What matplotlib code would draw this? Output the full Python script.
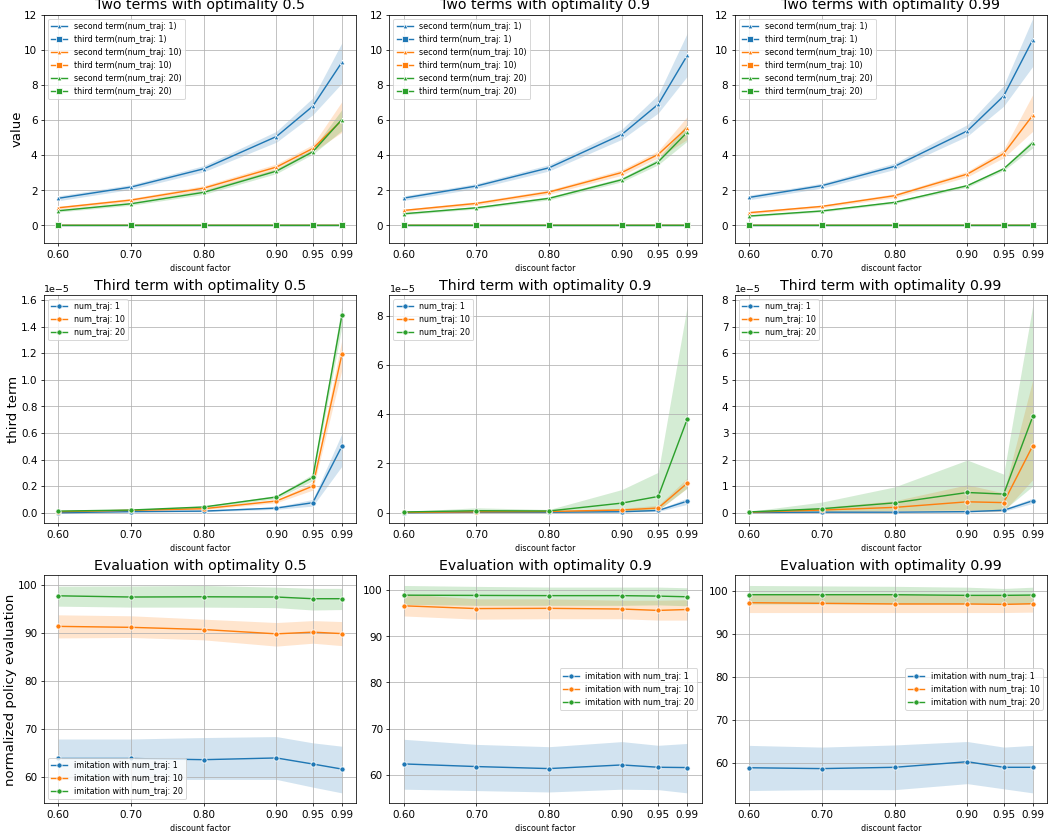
import numpy as np
import matplotlib.pyplot as plt

# discount factors and settings
x = [0.6, 0.7, 0.8, 0.9, 0.95, 0.99]
x_labels = ["0.60", "0.70", "0.80", "0.90", "0.95", "0.99"]
num_traj = [1, 10, 20]
optimality = ["0.5", "0.9", "0.99"]

# second term (rows: num_traj 1, 10, 20)
second_05_mean = [[1.54, 2.18, 3.22, 5.06, 6.79, 9.29],
                  [1.00, 1.44, 2.12, 3.32, 4.38, 5.99],
                  [0.83, 1.23, 1.88, 3.09, 4.19, 6.03]]
second_05_lo = [[1.40, 2.05, 3.05, 4.74, 6.30, 8.10],
                [0.92, 1.34, 1.98, 3.12, 4.18, 5.30],
                [0.76, 1.14, 1.76, 2.95, 4.05, 5.40]]
second_05_hi = [[1.68, 2.32, 3.40, 5.36, 7.26, 10.40],
                [1.08, 1.54, 2.26, 3.50, 4.60, 7.05],
                [0.90, 1.32, 2.00, 3.22, 4.35, 6.60]]

second_09_mean = [[1.55, 2.24, 3.28, 5.18, 6.90, 9.69],
                  [0.85, 1.25, 1.90, 3.01, 4.04, 5.57],
                  [0.66, 1.00, 1.54, 2.60, 3.62, 5.31]]
second_09_lo = [[1.42, 2.10, 3.10, 4.90, 6.40, 8.50],
                [0.78, 1.15, 1.78, 2.85, 3.85, 4.90],
                [0.60, 0.93, 1.45, 2.48, 3.45, 4.80]]
second_09_hi = [[1.68, 2.38, 3.46, 5.48, 7.45, 10.96],
                [0.92, 1.35, 2.02, 3.18, 4.25, 6.20],
                [0.72, 1.07, 1.63, 2.72, 3.80, 5.80]]

second_099_mean = [[1.59, 2.26, 3.36, 5.38, 7.37, 10.58],
                   [0.72, 1.08, 1.69, 2.92, 4.09, 6.27],
                   [0.53, 0.82, 1.31, 2.26, 3.22, 4.70]]
second_099_lo = [[1.46, 2.12, 3.18, 5.08, 6.79, 9.06],
                 [0.65, 1.00, 1.58, 2.76, 3.85, 5.36],
                 [0.48, 0.76, 1.24, 2.17, 3.12, 4.42]]
second_099_hi = [[1.72, 2.40, 3.54, 5.74, 7.96, 11.80],
                 [0.79, 1.16, 1.80, 3.08, 4.33, 7.45],
                 [0.58, 0.88, 1.38, 2.35, 3.32, 4.89]]

# third term, in units of 1e-5
third_05_mean = [[0.000, 0.008, 0.012, 0.035, 0.075, 0.500],
                 [0.008, 0.018, 0.030, 0.088, 0.200, 1.190],
                 [0.012, 0.020, 0.043, 0.118, 0.265, 1.485]]
third_05_lo = [[0.000, 0.004, 0.007, 0.025, 0.050, 0.350],
               [0.005, 0.013, 0.022, 0.075, 0.170, 1.075],
               [0.009, 0.016, 0.036, 0.105, 0.240, 1.400]]
third_05_hi = [[0.002, 0.012, 0.018, 0.045, 0.100, 0.595],
               [0.011, 0.023, 0.038, 0.100, 0.230, 1.300],
               [0.015, 0.025, 0.050, 0.130, 0.290, 1.560]]

third_09_mean = [[0.00, 0.02, 0.02, 0.04, 0.09, 0.47],
                 [0.01, 0.04, 0.05, 0.11, 0.19, 1.20],
                 [0.03, 0.08, 0.07, 0.39, 0.66, 3.81]]
third_09_lo = [[0.00, 0.01, 0.01, 0.02, 0.05, 0.34],
               [0.00, 0.02, 0.03, 0.05, 0.10, 1.01],
               [0.01, 0.03, 0.03, 0.05, 0.10, 1.00]]
third_09_hi = [[0.01, 0.03, 0.03, 0.06, 0.13, 0.60],
               [0.02, 0.07, 0.07, 0.18, 0.30, 1.41],
               [0.05, 0.20, 0.13, 0.94, 1.64, 8.42]]

third_099_mean = [[0.01, 0.02, 0.02, 0.04, 0.09, 0.45],
                  [0.02, 0.10, 0.20, 0.41, 0.38, 2.52],
                  [0.03, 0.15, 0.37, 0.76, 0.70, 3.62]]
third_099_lo = [[0.00, 0.01, 0.01, 0.02, 0.05, 0.35],
                [0.01, 0.03, 0.05, 0.05, 0.05, 1.24],
                [0.01, 0.04, 0.08, 0.10, 0.10, 1.00]]
third_099_hi = [[0.02, 0.03, 0.03, 0.06, 0.15, 0.55],
                [0.03, 0.20, 0.45, 1.05, 0.74, 5.00],
                [0.05, 0.40, 0.97, 1.98, 1.45, 7.80]]

# normalized policy evaluation
eval_05_mean = [[63.85, 63.85, 63.6, 63.96, 62.7, 61.65],
                [91.3, 91.1, 90.65, 89.75, 90.1, 89.8],
                [97.65, 97.4, 97.45, 97.4, 97.05, 97.05]]
eval_05_lo = [[59.5, 59.5, 59.5, 59.5, 57.9, 56.7],
              [88.9, 89.0, 88.5, 87.2, 87.8, 87.3],
              [95.5, 95.3, 95.3, 95.2, 94.7, 94.8]]
eval_05_hi = [[67.9, 67.9, 68.2, 68.4, 67.1, 66.4],
              [93.7, 93.5, 92.8, 92.1, 92.5, 92.3],
              [99.65, 99.7, 99.8, 99.45, 99.2, 99.2]]

eval_09_mean = [[62.37, 61.8, 61.36, 62.15, 61.65, 61.58],
                [96.6, 96.0, 96.05, 95.9, 95.6, 95.8],
                [98.9, 98.85, 98.8, 98.8, 98.7, 98.55]]
eval_09_lo = [[56.9, 56.6, 56.3, 56.9, 56.8, 56.1],
              [94.4, 93.7, 93.8, 93.8, 93.5, 93.5],
              [96.9, 96.7, 96.7, 96.7, 96.8, 96.6]]
eval_09_hi = [[67.7, 66.6, 66.1, 67.2, 66.4, 66.8],
              [99.2, 98.1, 98.1, 97.8, 97.8, 97.9],
              [101.0, 100.8, 100.65, 100.65, 100.65, 100.5]]

eval_099_mean = [[58.9, 58.7, 59.0, 60.3, 59.0, 59.0],
                 [97.3, 97.15, 97.0, 97.0, 96.9, 97.05],
                 [99.15, 99.15, 99.15, 99.0, 99.0, 99.07]]
eval_099_lo = [[53.6, 53.8, 53.8, 55.2, 54.0, 53.05],
               [95.0, 95.0, 95.0, 95.0, 95.0, 95.1],
               [97.0, 97.0, 97.0, 97.0, 97.0, 97.0]]
eval_099_hi = [[64.1, 63.7, 64.2, 65.0, 63.7, 64.1],
               [99.4, 99.2, 99.2, 99.1, 99.0, 99.1],
               [101.3, 101.2, 101.1, 100.9, 100.6, 100.9]]

second_mean = [second_05_mean, second_09_mean, second_099_mean]
second_lo = [second_05_lo, second_09_lo, second_099_lo]
second_hi = [second_05_hi, second_09_hi, second_099_hi]
third_mean = [third_05_mean, third_09_mean, third_099_mean]
third_lo = [third_05_lo, third_09_lo, third_099_lo]
third_hi = [third_05_hi, third_09_hi, third_099_hi]
eval_mean = [eval_05_mean, eval_09_mean, eval_099_mean]
eval_lo = [eval_05_lo, eval_09_lo, eval_099_lo]
eval_hi = [eval_05_hi, eval_09_hi, eval_099_hi]

colors = ["C0", "C1", "C2"]
scale = 1e-5

plt.rcParams['xtick.labelsize'] = 11
plt.rcParams['ytick.labelsize'] = 11


def line_band(ax, y, lo, hi, color, marker, label, ms=5.5):
    ax.fill_between(x, lo, hi, color=color, alpha=0.2, linewidth=0)
    ax.plot(x, y, color=color, marker=marker, markersize=ms,
            markeredgecolor="white", markeredgewidth=0.8,
            linewidth=1.5, label=label)


def style_axis(ax):
    ax.set_xticks(x)
    ax.set_xticklabels(x_labels)
    ax.grid(True)
    ax.set_xlabel("discount factor", fontsize=8.5)
    ax.yaxis.get_offset_text().set_fontsize(10)


fig, axes = plt.subplots(3, 3, figsize=(1048 / 68, 835.3 / 68), dpi=68)
fig.subplots_adjust(left=0.042, right=0.999, top=0.982, bottom=0.038,
                    wspace=0.107, hspace=0.228)

for j, opt in enumerate(optimality):
    # Two terms
    ax = axes[0, j]
    for i, n in enumerate(num_traj):
        line_band(ax, second_mean[j][i], second_lo[j][i], second_hi[j][i],
                  colors[i], "^", "second term(num_traj: %d)" % n, ms=5)
        t = np.array(third_mean[j][i]) * scale
        tl = np.array(third_lo[j][i]) * scale
        th = np.array(third_hi[j][i]) * scale
        line_band(ax, t, tl, th, colors[i], "s", "third term(num_traj: %d)" % n, ms=6)
    ax.set_ylim(-1, 12)
    ax.set_title("Two terms with optimality " + opt, fontsize=15)
    ax.legend(loc="upper left", fontsize=8.5)
    style_axis(ax)

    # Third term
    ax = axes[1, j]
    for i, n in enumerate(num_traj):
        t = np.array(third_mean[j][i]) * scale
        tl = np.array(third_lo[j][i]) * scale
        th = np.array(third_hi[j][i]) * scale
        line_band(ax, t, tl, th, colors[i], "o", "num_traj: %d" % n)
    ax.set_title("Third term with optimality " + opt, fontsize=15)
    ax.legend(loc="upper left", fontsize=8.5)
    style_axis(ax)

    # Evaluation
    ax = axes[2, j]
    for i, n in enumerate(num_traj):
        line_band(ax, eval_mean[j][i], eval_lo[j][i], eval_hi[j][i],
                  colors[i], "o", "imitation with num_traj: %d" % n)
    ax.set_title("Evaluation with optimality " + opt, fontsize=15)
    if j == 0:
        ax.legend(loc="lower left", fontsize=8.5)
    else:
        ax.legend(loc="center right", fontsize=8.5)
    style_axis(ax)

axes[0, 0].set_ylabel("value", fontsize=14, labelpad=1)
axes[1, 0].set_ylabel("third term", fontsize=14, labelpad=1)
axes[2, 0].set_ylabel("normalized policy evaluation", fontsize=14, labelpad=1)

plt.savefig("out.png", dpi=68)
